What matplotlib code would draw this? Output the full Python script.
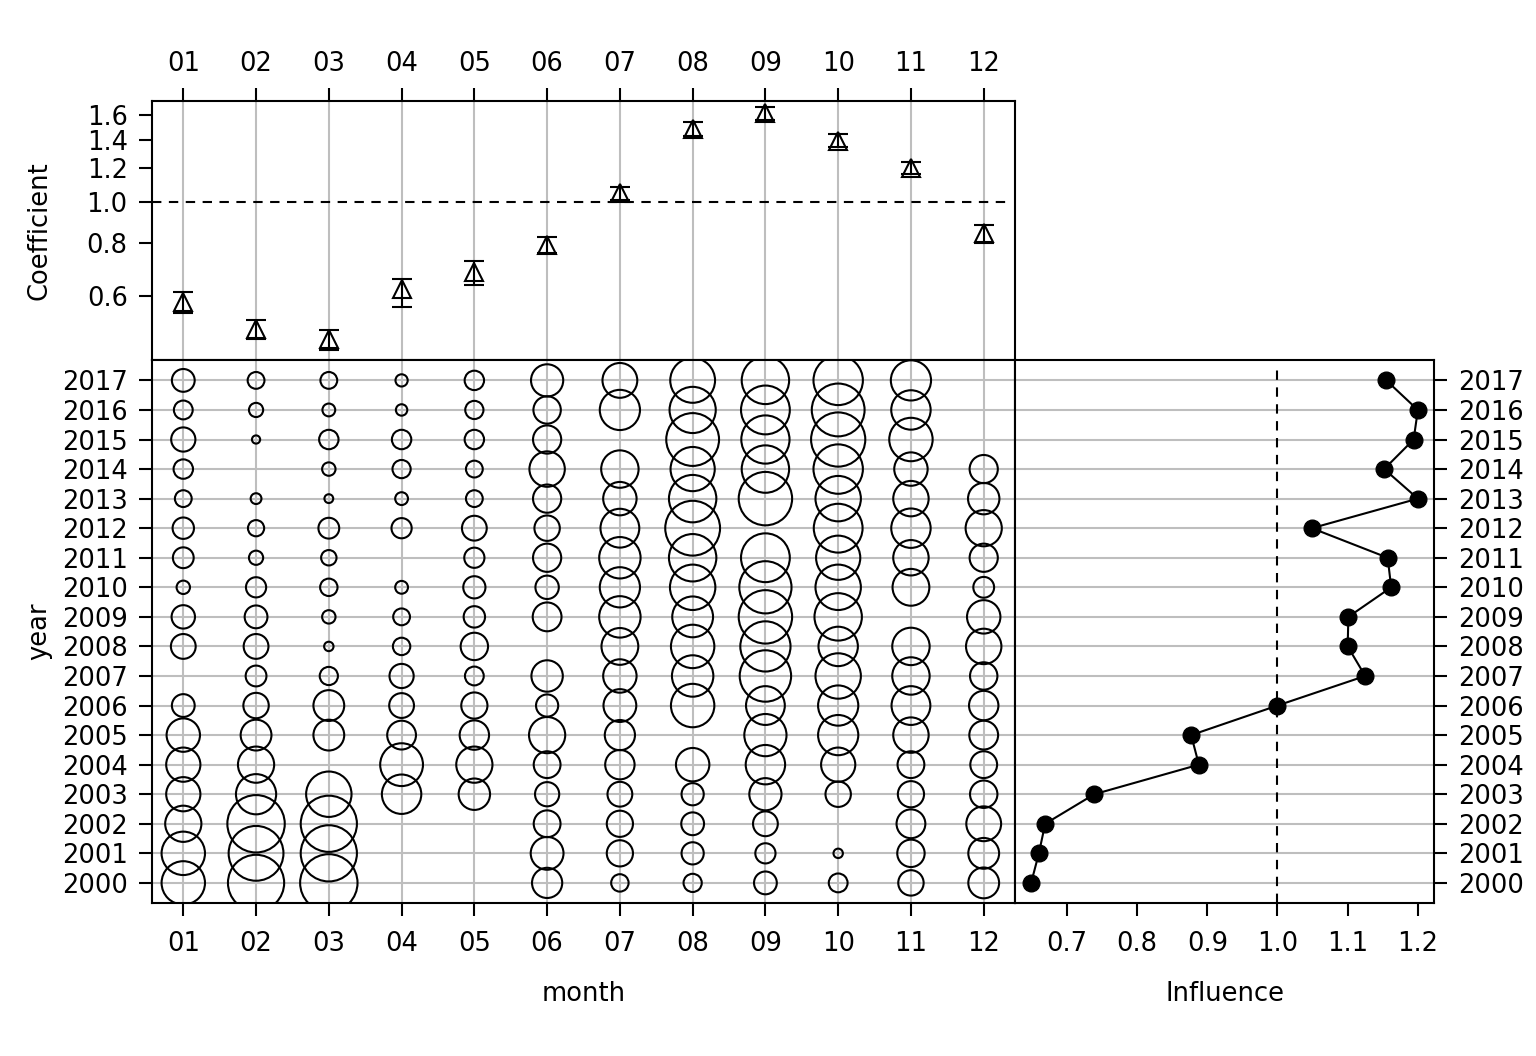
import matplotlib
matplotlib.use('Agg')
import matplotlib.pyplot as plt
import numpy as np
from matplotlib.ticker import NullLocator

# ---------------- data ----------------
months = ['01', '02', '03', '04', '05', '06', '07', '08', '09', '10', '11', '12']
years = list(range(2000, 2018))

coef = [0.581, 0.502, 0.476, 0.622, 0.684, 0.791, 1.050, 1.486, 1.616, 1.392, 1.200, 0.843]
coef_lower = [0.548, 0.474, 0.447, 0.566, 0.638, 0.756, 1.009, 1.430, 1.558, 1.343, 1.160, 0.800]
coef_upper = [0.612, 0.526, 0.500, 0.658, 0.724, 0.827, 1.083, 1.539, 1.674, 1.444, 1.242, 0.880]

coef_ticks = [0.6, 0.8, 1.0, 1.2, 1.4, 1.6]
influ_ticks = [0.7, 0.8, 0.9, 1.0, 1.1, 1.2]

# influence by year (2000 .. 2017)
influence = [0.649, 0.660, 0.669, 0.739, 0.888, 0.877, 1.000, 1.125, 1.100, 1.101,
             1.162, 1.157, 1.049, 1.200, 1.152, 1.194, 1.200, 1.155]

# bubble magnitude (sqrt of relative proportion, arbitrary units) by year 2000 .. 2017; 0 = none
b01 = [22.3, 22.3, 18.7, 17.7, 17.7, 17.3, 12.0, 0, 13.0, 12.3, 7.3, 11.0, 11.3, 9.0, 10.3, 12.7, 10.0, 12.0]
b02 = [28.7, 28.0, 29.3, 20.7, 18.7, 16.0, 13.3, 11.0, 13.0, 12.0, 10.7, 7.7, 8.7, 6.0, 0, 4.7, 7.7, 9.0]
b03 = [29.3, 28.7, 28.7, 23.3, 0, 16.0, 16.0, 9.7, 5.3, 7.3, 9.3, 8.3, 11.0, 5.0, 7.3, 10.3, 7.0, 9.0]
b04 = [0, 0, 0, 20.3, 22.0, 15.0, 13.0, 12.7, 9.3, 9.0, 7.0, 0, 10.7, 7.0, 9.7, 10.3, 6.3, 6.7]
b05 = [0, 0, 0, 16.3, 18.7, 15.3, 13.7, 10.0, 14.3, 11.3, 11.7, 10.7, 13.0, 9.0, 9.0, 10.3, 9.7, 10.3]
b06 = [15.7, 17.0, 14.0, 12.7, 14.0, 18.7, 11.7, 16.3, 0, 15.0, 12.3, 14.7, 13.3, 14.7, 18.3, 14.7, 14.3, 16.7]
b07 = [9.3, 13.7, 13.7, 13.0, 15.3, 15.7, 17.0, 17.3, 19.0, 21.3, 20.7, 21.3, 20.0, 17.3, 19.3, 0, 20.7, 18.0]
b08 = [9.7, 11.7, 12.0, 11.7, 17.3, 0, 22.3, 21.3, 22.3, 21.0, 23.3, 24.3, 28.0, 24.3, 22.7, 27.0, 23.7, 23.0]
b09 = [12.0, 10.7, 13.0, 16.7, 20.3, 21.7, 20.0, 26.3, 25.7, 27.3, 26.7, 25.0, 0, 27.3, 24.3, 24.7, 25.0, 24.3]
b10 = [10.0, 5.3, 0, 13.3, 17.7, 20.7, 20.7, 23.3, 20.3, 24.3, 23.3, 22.7, 25.0, 23.3, 25.3, 27.7, 27.0, 25.3]
b11 = [13.3, 14.3, 15.0, 13.7, 14.0, 18.3, 20.0, 19.3, 19.3, 0, 19.0, 18.3, 20.3, 18.3, 17.3, 22.3, 20.3, 20.7]
b12 = [16.0, 16.0, 18.0, 14.3, 14.0, 15.0, 15.3, 14.3, 18.3, 17.3, 11.0, 14.7, 18.7, 16.3, 14.7, 0, 0, 0]
bubbles = [b01, b02, b03, b04, b05, b06, b07, b08, b09, b10, b11, b12]

# ---------------- style ----------------
FS = 18.5
LW = 1.5
GRID = '#bebebe'
DASH = (0, (4.5, 3.6))
plt.rcParams['font.family'] = ['DejaVu Sans']

fig = plt.figure(figsize=(15.36, 10.56), dpi=100)
W, H = 1536.0, 1056.0
L, M, R = 152 / W, 1015 / W, 1434 / W
T, MID, B = 1 - 101 / H, 1 - 360 / H, 1 - 903 / H

ax_top = fig.add_axes([L, MID, M - L, T - MID])
ax_b = fig.add_axes([L, B, M - L, MID - B])
ax_r = fig.add_axes([M, B, R - M, MID - B])

xpos = np.arange(1, len(months) + 1)
for ax in (ax_top, ax_b, ax_r):
    for s in ax.spines.values():
        s.set_linewidth(LW)
    ax.tick_params(direction='out', length=9.5, width=LW, labelsize=FS, pad=8)
    ax.set_axisbelow(True)

# ---- top: coefficients ----
ax_top.set_yscale('log')
ax_top.set_xlim(0.57, 12.43)
ax_top.set_ylim(0.424, 1.727)
ax_top.grid(axis='x', color=GRID, lw=LW)
ax_top.plot([0.57, 12.37], [1.0, 1.0], color='k', lw=LW, ls=DASH, zorder=1)
c = np.array(coef)
lo = np.array(coef_lower)
up = np.array(coef_upper)
ax_top.errorbar(xpos, c, yerr=[c - lo, up - c], fmt='^', mfc='none', mec='k', ms=13.5, mew=LW,
                ecolor='k', elinewidth=LW, capsize=7.5, capthick=LW, zorder=3)
ax_top.set_yticks(coef_ticks)
ax_top.set_yticklabels(['%.1f' % v for v in coef_ticks])
ax_top.yaxis.set_minor_locator(NullLocator())
ax_top.xaxis.tick_top()
ax_top.tick_params(axis='x', pad=7.5)
ax_top.set_xticks(xpos)
ax_top.set_xticklabels(months)
ax_top.set_ylabel('Coefficient', fontsize=FS)
ax_top.yaxis.set_label_coords(-0.115, 0.5)

# ---- bottom left: bubbles ----
ax_b.set_xlim(0.57, 12.43)
ax_b.set_ylim(1999.32, 2017.69)
ax_b.grid(True, color=GRID, lw=LW)
k = 1.44
for j, vals in enumerate(bubbles):
    v = np.array(vals, dtype=float)
    yr = np.array(years)
    m = v > 0
    ax_b.scatter(np.full(m.sum(), xpos[j]), yr[m], s=(k * (v[m] - 0.6)) ** 2,
                 facecolors='none', edgecolors='k', linewidths=LW, zorder=3)
ax_b.set_xticks(xpos)
ax_b.set_xticklabels(months)
ax_b.tick_params(axis='x', pad=11)
ax_b.set_yticks(years)
ax_b.set_yticklabels([str(y) for y in years])
ax_b.set_xlabel('month', fontsize=FS)
ax_b.set_ylabel('year', fontsize=FS)
ax_b.xaxis.set_label_coords(0.5, -0.143)
ax_b.yaxis.set_label_coords(-0.115, 0.5)

# ---- bottom right: influence ----
ax_r.set_xlim(0.626, 1.223)
ax_r.set_ylim(1999.32, 2017.69)
ax_r.grid(axis='y', color=GRID, lw=LW)
ax_r.axvline(1.0, ymin=0.0, ymax=0.985, color='k', lw=LW, ls=DASH, zorder=1)
ax_r.plot(influence, years, '-o', color='k', lw=LW, ms=12, zorder=3)
ax_r.set_xticks(influ_ticks)
ax_r.set_xticklabels(['%.1f' % v for v in influ_ticks])
ax_r.tick_params(axis='x', pad=11)
ax_r.yaxis.tick_right()
ax_r.set_yticks(years)
ax_r.set_yticklabels([str(y) for y in years])
ax_r.set_xlabel('Influence', fontsize=FS)
ax_r.xaxis.set_label_coords(0.5, -0.143)

fig.savefig('out.png', dpi=100)
